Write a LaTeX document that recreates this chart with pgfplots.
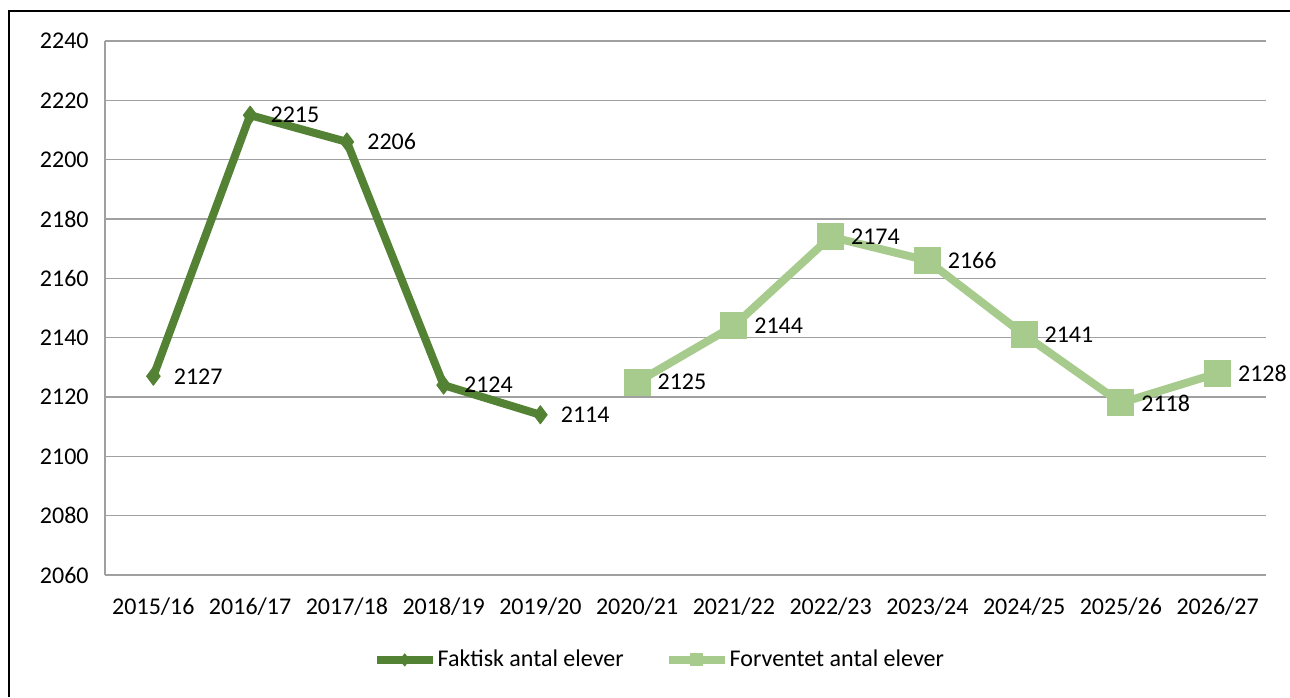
\documentclass[border=0pt]{standalone}
\usepackage{pgfplots}
\pgfplotsset{compat=1.18}
\usepackage{fontspec}
\setmainfont{Carlito}
\definecolor{darkg}{RGB}{84,130,53}
\definecolor{lightg}{RGB}{166,203,140}
\definecolor{gridc}{RGB}{160,160,160}
\begin{document}
\fontsize{12}{14}\selectfont
\begin{tikzpicture}
\path[use as bounding box] (0,0) rectangle (645pt,348.5pt);
\draw[black, line width=1.1pt] (4.6pt,0) -- (4.6pt,343pt) -- (645pt,343pt);
\begin{axis}[
  at={(52.5pt,61pt)}, anchor=south west,
  scale only axis, width=580.5pt, height=267pt,
  xmin=-0.5, xmax=11.5, ymin=2060, ymax=2240,
  ytick={2060,2080,...,2240},
  xtick={0,...,11},
  xticklabels={2015/16,2016/17,2017/18,2018/19,2019/20,2020/21,2021/22,2022/23,2023/24,2024/25,2025/26,2026/27},
  axis lines=left,
  x axis line style={draw=none},
  y axis line style={gridc, -, line width=0.6pt},
  major tick length=0pt,
  ymajorgrids, grid style={gridc, line width=0.6pt},
  /pgf/number format/assume math mode=true,
  /pgf/number format/1000 sep={},
  yticklabel style={xshift=-4pt, font=\fontsize{12}{14}\selectfont},
  xticklabel style={yshift=-7pt, font=\fontsize{12}{14}\selectfont},
  nodes near coords,
  nodes near coords style={anchor=west, xshift=8pt, inner xsep=2pt, font=\fontsize{12}{14}\selectfont, text=black,
    /pgf/number format/1000 sep={}, /pgf/number format/assume math mode=true},
  legend columns=2,
  legend style={draw=none, fill=none, at={(0.477,-0.159)}, anchor=center,
    font=\fontsize{12}{14}\selectfont, nodes={inner xsep=0.5pt},
    /tikz/every even column/.append style={column sep=20pt}},
  legend image code/.code={\draw[mark repeat=2,mark phase=2,#1,mark size=3pt] plot coordinates {(0pt,0pt) (14pt,0pt) (28pt,0pt)};},
  clip=false,
]
\addplot[darkg, line width=4pt, line join=round, mark=diamond*, mark size=4.5pt,
  mark options={fill=darkg, draw=darkg, line width=0.5pt}]
  coordinates {(0,2127) (1,2215) (2,2206) (3,2124) (4,2114)};
\addlegendentry{Faktisk antal elever}
\addplot[lightg, line width=4pt, line join=round, mark=square*, mark size=6.5pt,
  mark options={fill=lightg, draw=lightg, line width=0.5pt}]
  coordinates {(5,2125) (6,2144) (7,2174) (8,2166) (9,2141) (10,2118) (11,2128)};
\addlegendentry{Forventet antal elever}
\end{axis}
\end{tikzpicture}
\end{document}
